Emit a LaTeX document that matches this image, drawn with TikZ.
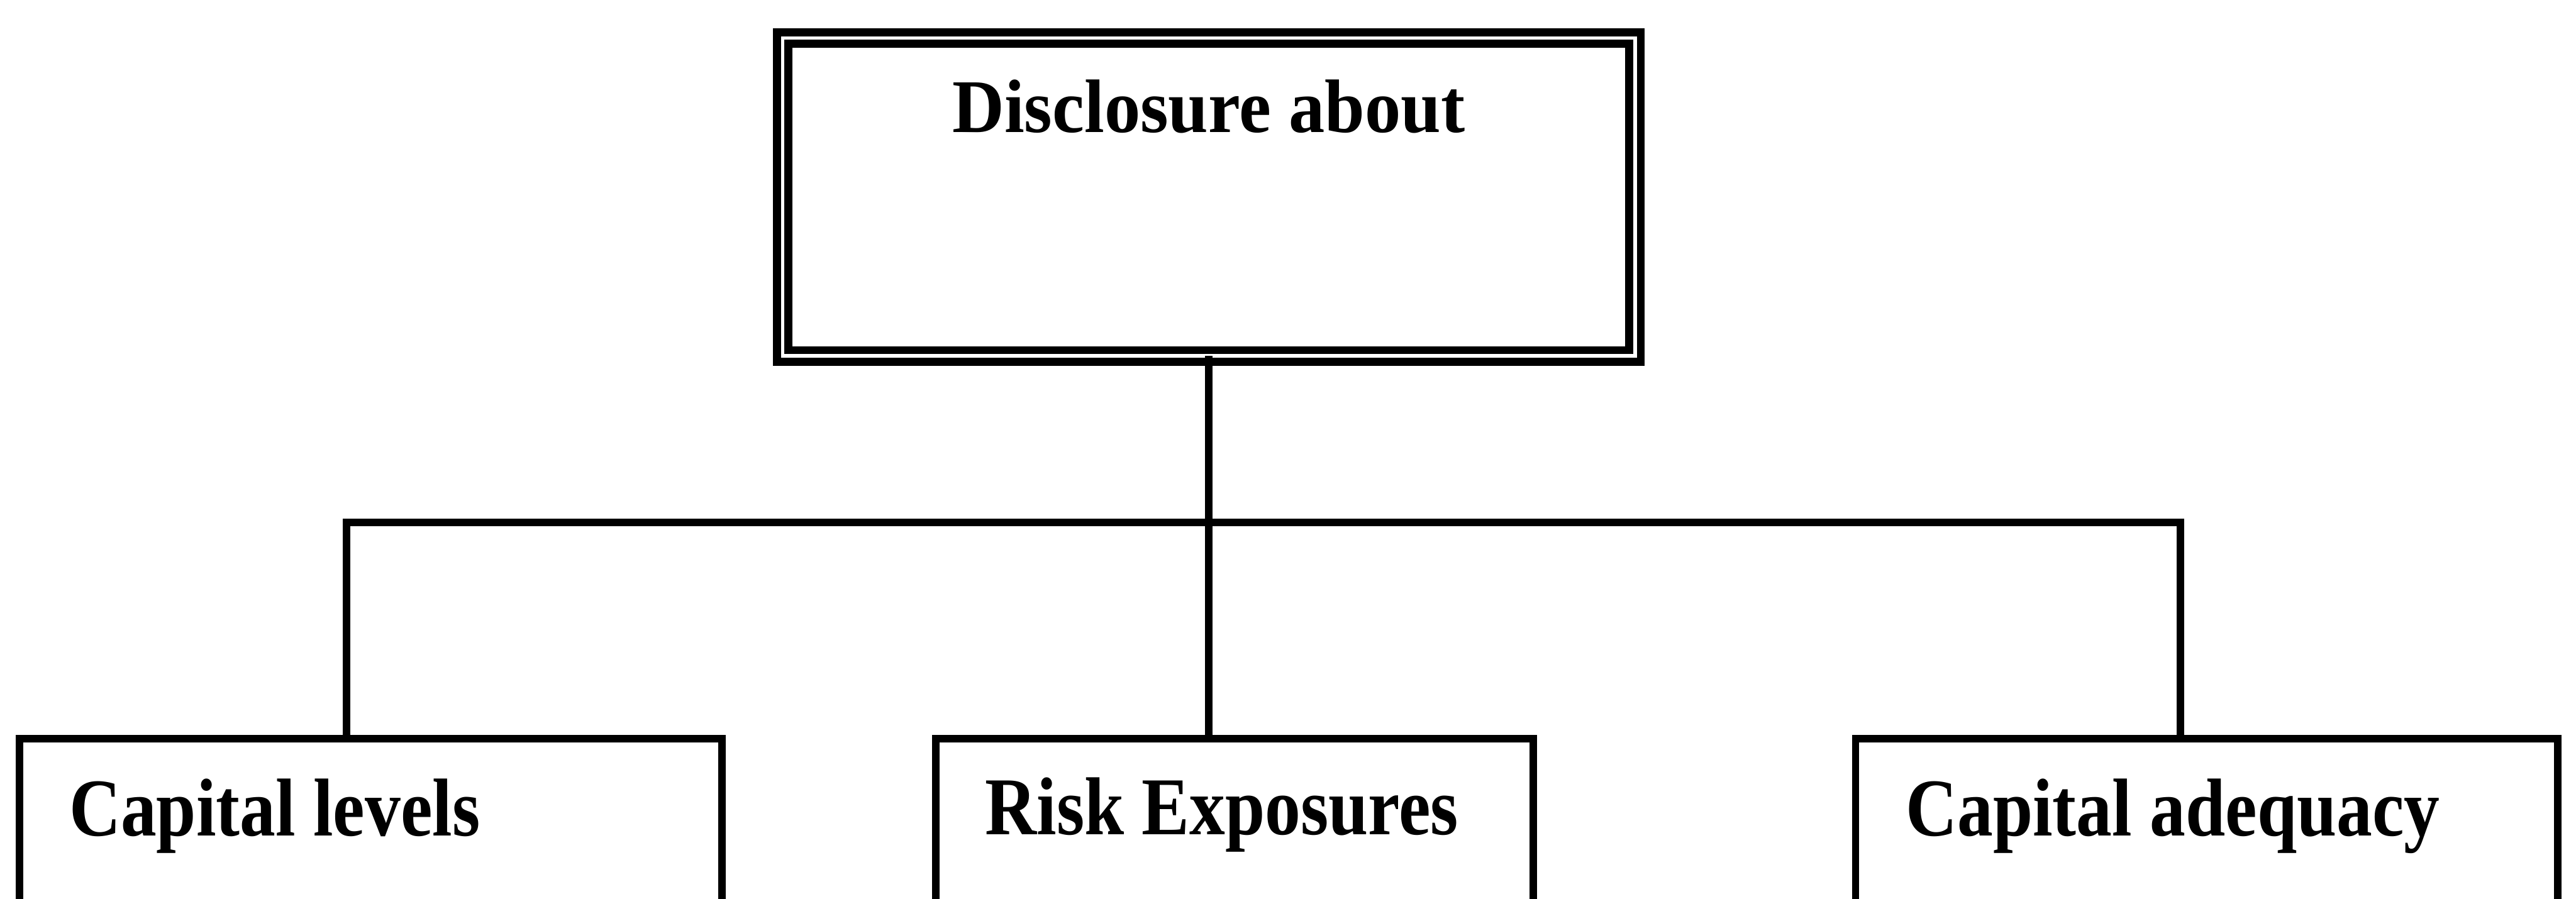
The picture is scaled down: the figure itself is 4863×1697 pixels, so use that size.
\documentclass[tikz,border=0pt]{standalone}
\usepackage{fontspec}
\setmainfont{Liberation Serif}
\usepackage{graphicx}
\begin{document}
\begin{tikzpicture}[x=0.01cm,y=-0.01cm,
  box/.style={draw=black, line width=0.14cm, rectangle, inner sep=0pt, outer sep=0pt, anchor=north west, minimum height=5cm},
  topbox/.style={draw=black, double=white, line width=0.15cm, double distance=0.07cm, rectangle, inner sep=0pt, outer sep=0pt, minimum width=16.08cm, minimum height=6cm},
  toptext/.style={font=\fontsize{40.7pt}{48pt}\selectfont\bfseries, inner sep=0pt, anchor=base},
  lowtext/.style={font=\fontsize{44.1pt}{52pt}\selectfont\bfseries, inner sep=0pt, anchor=base west},
  link/.style={draw=black, line width=0.14cm, line join=miter}]
\useasboundingbox (0,0) rectangle (4863,1697);
\clip (0,0) rectangle (4863,1697);
\fill[white] (0,0) rectangle (4863,1697);
% top box
\node[topbox] (top) at (2282,372) {};
\node[toptext] (ttop) at (2282,250) {\scalebox{0.95}[1]{Disclosure about}};
% bottom boxes
\node[box, minimum width=13.25cm] (b1) at (37,1395) {};
\node[box, minimum width=11.27cm] (b2) at (1767,1395) {};
\node[box, minimum width=13.25cm] (b3) at (3503,1395) {};
\node[lowtext] (t1) at (130,1578) {\scalebox{0.87}[1]{Capital levels}};
\node[lowtext] (t2) at (1859,1576) {\scalebox{0.87}[1]{Risk Exposures}};
\node[lowtext] (t3) at (3597,1578) {\scalebox{0.87}[1]{Capital adequacy}};
% connectors
\coordinate (jl) at (654,987);
\coordinate (jr) at (4116,987);
\draw[link] (jl |- b1.north) -- (jl) -- (jr) -- (jr |- b3.north);
\draw[link] (top.south) -- (top.south |- b2.north);
\end{tikzpicture}
\end{document}
